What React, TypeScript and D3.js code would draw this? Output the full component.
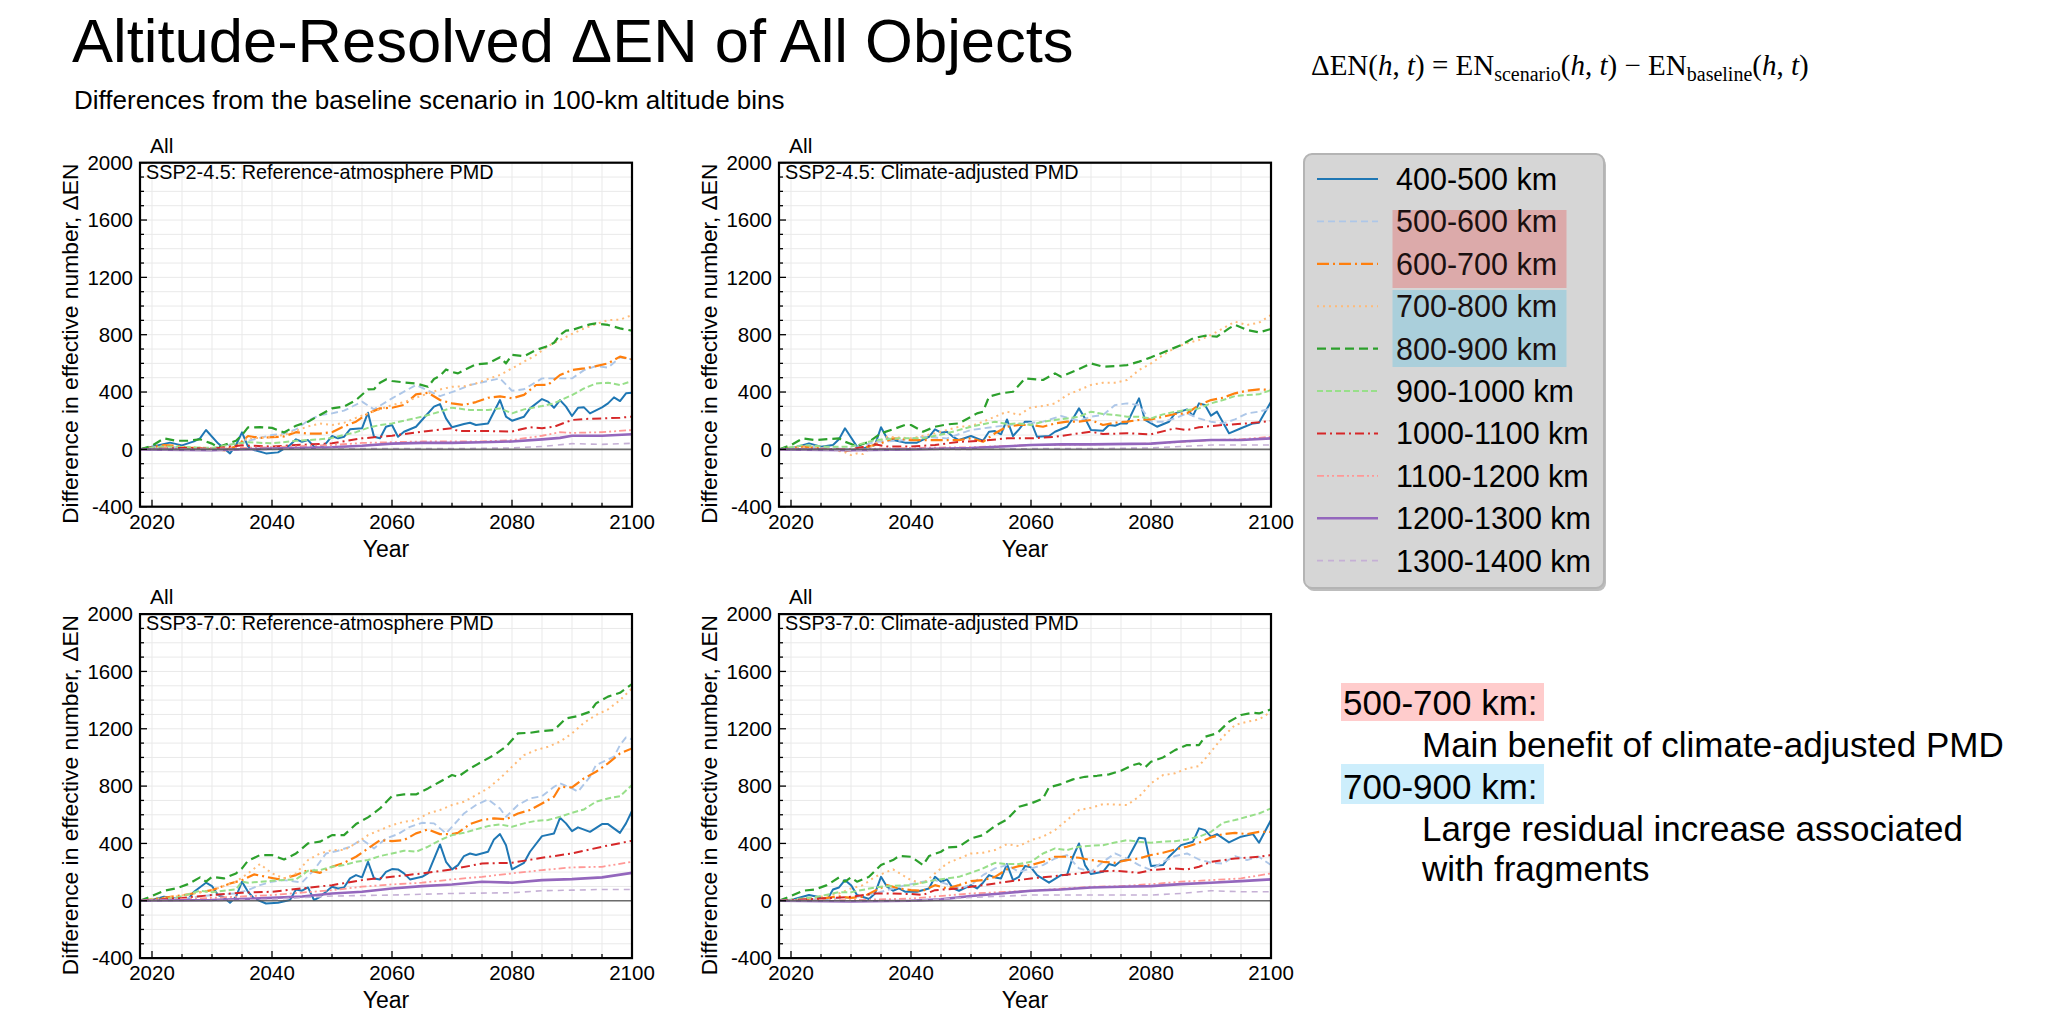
import React from "react";
import * as d3 from "d3";

type Pt = [number, number];

// altitude bins, in legend order
const bins = [
  "400-500 km", "500-600 km", "600-700 km", "700-800 km", "800-900 km",
  "900-1000 km", "1000-1100 km", "1100-1200 km", "1200-1300 km", "1300-1400 km",
];
const colors = [
  "#1f77b4", "#aec7e8", "#ff7f0e", "#ffbb78", "#2ca02c",
  "#98df8a", "#d62728", "#ff9896", "#9467bd", "#c5b0d5",
];
const dashes = ["", "7,4", "12,4,2,4", "2,4", "9,5", "6,3", "9,4,2,4", "7,3,2,3,2,3", "", "6,5"];
const widths = [2, 1.9, 2.2, 2, 2.2, 2, 2, 1.8, 2.6, 1.6];

const yTicks = [-400, 0, 400, 800, 1200, 1600, 2000];
const xTicks = [2020, 2040, 2060, 2080, 2100];

const panelTitles = [
  "SSP2-4.5: Reference-atmosphere PMD",
  "SSP2-4.5: Climate-adjusted PMD",
  "SSP3-7.0: Reference-atmosphere PMD",
  "SSP3-7.0: Climate-adjusted PMD",
];

// SSP2-4.5, reference-atmosphere PMD
const ssp245Ref: Pt[][] = [
  [[2018,0],[2020,19],[2023,47],[2025,28],[2027,56],[2028,77],[2029,135],[2031,42],[2032,7],[2033,-28],[2034,30],[2035,119],[2036,19],[2037,-5],[2039,-28],[2041,-21],[2043,30],[2044,70],[2045,53],[2046,65],[2047,19],[2048,7],[2049,42],[2050,93],[2051,77],[2052,88],[2053,140],[2055,147],[2056,256],[2057,88],[2058,77],[2059,158],[2060,170],[2061,88],[2062,123],[2064,158],[2065,205],[2067,298],[2068,316],[2069,216],[2070,154],[2072,177],[2073,186],[2074,170],[2076,181],[2078,344],[2079,228],[2080,200],[2082,228],[2083,286],[2085,351],[2086,333],[2087,290],[2088,344],[2089,298],[2090,233],[2091,290],[2092,293],[2093,251],[2095,293],[2096,321],[2097,363],[2098,337],[2099,391],[2100,395]],
  [[2018,0],[2022,25],[2025,10],[2030,5],[2035,50],[2040,100],[2042,110],[2044,140],[2046,200],[2048,240],[2050,251],[2052,270],[2055,333],[2057,279],[2060,356],[2064,449],[2068,372],[2071,414],[2073,449],[2078,495],[2080,409],[2082,419],[2085,495],[2088,495],[2090,495],[2092,553],[2094,581],[2096,570],[2098,642],[2100,628]],
  [[2018,0],[2020,15],[2022,30],[2024,25],[2026,10],[2028,10],[2030,0],[2032,-5],[2034,20],[2036,93],[2038,80],[2040,85],[2042,90],[2044,120],[2046,110],[2048,110],[2050,120],[2052,160],[2054,193],[2056,251],[2058,286],[2060,290],[2062,310],[2064,384],[2066,395],[2068,344],[2070,321],[2072,310],[2074,330],[2076,360],[2078,370],[2080,356],[2082,380],[2084,449],[2086,450],[2088,519],[2090,553],[2092,565],[2094,581],[2096,600],[2098,647],[2100,628]],
  [[2018,0],[2022,20],[2026,15],[2030,5],[2032,-10],[2034,20],[2036,80],[2038,80],[2040,90],[2042,100],[2044,130],[2046,160],[2048,180],[2050,170],[2052,185],[2054,220],[2056,251],[2058,280],[2060,309],[2062,330],[2064,360],[2066,390],[2068,418],[2070,437],[2072,440],[2074,460],[2076,491],[2078,519],[2080,565],[2082,612],[2084,658],[2086,721],[2088,763],[2090,805],[2092,844],[2094,874],[2096,902],[2098,905],[2100,937]],
  [[2018,0],[2020,25],[2022,77],[2024,60],[2026,60],[2028,70],[2030,40],[2031,15],[2032,30],[2034,60],[2035,100],[2036,153],[2038,155],[2040,150],[2042,118],[2044,165],[2046,193],[2048,240],[2050,286],[2052,298],[2054,344],[2056,419],[2057,420],[2058,465],[2059,488],[2060,477],[2062,467],[2064,460],[2066,437],[2067,491],[2068,512],[2069,558],[2070,540],[2071,530],[2072,553],[2074,593],[2076,600],[2078,642],[2079,600],[2080,660],[2082,650],[2084,693],[2086,721],[2087,744],[2088,798],[2089,828],[2090,833],[2092,860],[2093,872],[2094,879],[2096,868],[2098,844],[2100,828]],
  [[2018,0],[2022,20],[2026,15],[2030,10],[2034,40],[2036,50],[2040,42],[2044,60],[2048,70],[2050,80],[2054,120],[2056,150],[2058,170],[2060,181],[2065,228],[2068,263],[2070,291],[2073,274],[2076,274],[2078,286],[2080,251],[2082,279],[2085,302],[2087,321],[2090,379],[2092,425],[2094,460],[2096,465],[2098,449],[2100,477]],
  [[2018,0],[2025,10],[2030,5],[2035,28],[2040,20],[2045,32],[2050,42],[2055,77],[2060,95],[2065,123],[2070,147],[2071,128],[2075,128],[2080,125],[2083,154],[2085,147],[2087,158],[2090,205],[2092,212],[2095,216],[2098,221],[2100,228]],
  [[2018,0],[2030,5],[2040,15],[2050,30],[2055,45],[2060,50],[2065,55],[2070,55],[2075,55],[2080,65],[2085,95],[2088,120],[2090,115],[2095,120],[2100,135]],
  [[2018,0],[2030,-5],[2040,5],[2050,15],[2055,25],[2060,40],[2065,45],[2070,45],[2075,50],[2080,55],[2085,70],[2088,80],[2090,95],[2095,95],[2100,105]],
  [[2018,0],[2030,-5],[2040,0],[2050,5],[2060,5],[2070,5],[2080,10],[2085,20],[2090,40],[2095,35],[2100,42]],
];

// SSP2-4.5, climate-adjusted PMD
const ssp245Adj: Pt[][] = [
  [[2018,0],[2020,7],[2023,42],[2025,19],[2027,30],[2028,70],[2029,147],[2031,19],[2032,7],[2034,30],[2035,154],[2036,77],[2037,65],[2039,47],[2041,47],[2043,88],[2044,140],[2045,116],[2046,123],[2047,88],[2048,65],[2050,93],[2051,77],[2052,60],[2053,123],[2054,128],[2055,105],[2056,209],[2057,93],[2058,140],[2059,193],[2060,193],[2061,88],[2063,93],[2064,123],[2066,158],[2067,216],[2068,286],[2069,216],[2070,135],[2072,130],[2073,170],[2074,165],[2075,181],[2076,181],[2078,356],[2079,205],[2081,158],[2083,193],[2084,251],[2086,279],[2087,235],[2088,321],[2089,309],[2090,235],[2091,263],[2093,112],[2095,147],[2097,181],[2098,186],[2100,333]],
  [[2018,0],[2022,20],[2026,10],[2030,0],[2034,53],[2038,60],[2042,88],[2046,77],[2050,135],[2054,158],[2058,177],[2062,193],[2065,233],[2068,200],[2070,228],[2072,240],[2074,309],[2076,321],[2078,309],[2080,193],[2082,193],[2084,216],[2086,251],[2088,216],[2090,193],[2092,181],[2094,209],[2096,251],[2098,263],[2100,286]],
  [[2018,0],[2022,20],[2026,0],[2029,-10],[2031,0],[2033,20],[2035,42],[2037,77],[2040,65],[2044,65],[2048,65],[2050,77],[2052,53],[2054,112],[2056,158],[2058,170],[2060,170],[2062,158],[2064,181],[2066,193],[2068,193],[2070,205],[2072,170],[2074,186],[2076,193],[2078,205],[2080,209],[2082,228],[2084,247],[2086,251],[2088,309],[2090,344],[2092,360],[2094,391],[2096,409],[2098,419],[2100,414]],
  [[2018,0],[2022,15],[2026,5],[2029,-20],[2030,-40],[2031,-28],[2032,-33],[2034,42],[2036,88],[2040,77],[2044,112],[2048,158],[2050,163],[2052,193],[2054,228],[2056,263],[2058,240],[2060,293],[2062,302],[2064,321],[2066,379],[2068,414],[2070,449],[2072,465],[2074,465],[2076,484],[2078,553],[2080,600],[2082,658],[2084,709],[2086,740],[2088,763],[2090,798],[2092,844],[2094,891],[2096,868],[2098,884],[2100,937]],
  [[2018,0],[2020,30],[2022,77],[2024,65],[2028,77],[2029,53],[2031,23],[2033,53],[2035,112],[2037,140],[2039,170],[2040,170],[2042,123],[2044,158],[2046,174],[2048,181],[2051,251],[2052,263],[2053,368],[2055,391],[2057,402],[2059,495],[2062,484],[2064,530],[2065,507],[2068,560],[2070,600],[2072,577],[2074,581],[2076,588],[2078,612],[2080,642],[2083,693],[2085,728],[2087,775],[2089,793],[2091,786],[2093,844],[2094,868],[2096,833],[2098,816],[2100,840]],
  [[2018,0],[2022,30],[2026,19],[2030,19],[2034,65],[2038,77],[2042,77],[2046,112],[2050,158],[2054,193],[2056,177],[2058,181],[2060,170],[2062,193],[2064,205],[2066,216],[2068,228],[2070,263],[2072,247],[2074,240],[2076,228],[2078,228],[2080,216],[2082,244],[2084,263],[2086,274],[2088,286],[2090,321],[2092,344],[2094,372],[2096,379],[2098,384],[2100,414]],
  [[2018,0],[2030,0],[2034,35],[2036,20],[2040,20],[2044,30],[2048,53],[2052,60],[2056,77],[2060,77],[2064,88],[2068,112],[2070,123],[2072,107],[2076,112],[2080,105],[2084,147],[2086,135],[2088,154],[2092,170],[2096,181],[2100,198]],
  [[2018,0],[2030,0],[2040,10],[2050,15],[2060,30],[2070,35],[2080,40],[2090,65],[2095,70],[2100,88]],
  [[2018,0],[2030,-5],[2040,0],[2050,10],[2060,30],[2065,35],[2070,35],[2080,40],[2085,55],[2090,65],[2095,65],[2100,77]],
  [[2018,0],[2030,-5],[2040,0],[2050,0],[2060,5],[2070,5],[2080,10],[2085,20],[2090,30],[2095,30],[2100,30]],
];

// SSP3-7.0, reference-atmosphere PMD
const ssp370Ref: Pt[][] = [
  [[2018,0],[2020,5],[2022,28],[2024,16],[2026,9],[2027,63],[2029,126],[2030,102],[2031,40],[2032,23],[2033,-14],[2034,28],[2035,133],[2036,63],[2037,16],[2039,-19],[2041,-14],[2043,5],[2044,79],[2045,70],[2046,93],[2047,5],[2048,28],[2050,98],[2051,86],[2052,93],[2053,156],[2054,179],[2055,163],[2056,272],[2057,156],[2058,149],[2059,202],[2060,221],[2061,219],[2062,191],[2063,149],[2065,167],[2066,191],[2068,393],[2069,272],[2070,219],[2071,249],[2072,312],[2073,330],[2074,319],[2076,342],[2077,428],[2078,465],[2079,388],[2080,219],[2082,265],[2083,342],[2085,451],[2087,470],[2088,579],[2089,540],[2090,486],[2091,512],[2093,481],[2095,535],[2096,535],[2098,474],[2099,540],[2100,626]],
  [[2018,0],[2026,20],[2030,40],[2034,51],[2036,74],[2038,109],[2040,133],[2042,144],[2045,128],[2047,214],[2049,330],[2051,349],[2053,377],[2055,428],[2057,365],[2059,435],[2061,465],[2063,516],[2065,544],[2067,540],[2069,470],[2070,516],[2072,609],[2074,668],[2076,707],[2078,644],[2079,586],[2081,668],[2083,714],[2085,730],[2087,795],[2088,819],[2090,784],[2091,761],[2093,865],[2094,947],[2097,1005],[2098,1086],[2099,1140],[2100,1126]],
  [[2018,0],[2022,20],[2026,45],[2030,74],[2033,120],[2035,144],[2037,184],[2039,167],[2041,151],[2042,156],[2044,179],[2046,214],[2048,195],[2050,237],[2052,265],[2054,307],[2056,365],[2058,423],[2060,416],[2062,423],[2064,470],[2066,498],[2068,465],[2070,465],[2071,474],[2073,535],[2075,563],[2077,575],[2079,568],[2081,609],[2083,633],[2085,679],[2087,726],[2088,795],[2090,791],[2092,854],[2094,900],[2096,958],[2098,1028],[2100,1063]],
  [[2018,0],[2024,30],[2030,74],[2034,133],[2036,191],[2038,256],[2040,191],[2042,156],[2044,191],[2046,284],[2048,330],[2050,354],[2052,354],[2054,400],[2056,458],[2058,493],[2060,528],[2062,551],[2064,563],[2066,609],[2068,633],[2070,668],[2072,691],[2074,737],[2076,784],[2078,854],[2080,935],[2082,1016],[2084,1051],[2086,1075],[2088,1110],[2090,1168],[2092,1242],[2094,1296],[2096,1335],[2098,1400],[2100,1482]],
  [[2018,0],[2020,33],[2022,70],[2024,86],[2026,116],[2028,163],[2029,133],[2030,167],[2032,156],[2034,191],[2035,226],[2036,279],[2038,319],[2040,319],[2042,288],[2044,330],[2046,400],[2048,412],[2050,458],[2052,458],[2054,535],[2056,582],[2058,644],[2060,730],[2062,742],[2064,742],[2066,784],[2068,830],[2070,877],[2071,865],[2073,923],[2075,970],[2077,1016],[2079,1075],[2081,1168],[2083,1172],[2085,1184],[2087,1191],[2089,1272],[2091,1289],[2093,1319],[2094,1377],[2096,1424],[2098,1451],[2100,1512]],
  [[2018,0],[2024,20],[2028,70],[2030,60],[2034,79],[2035,133],[2036,126],[2040,140],[2044,149],[2046,209],[2048,214],[2050,237],[2052,249],[2054,272],[2056,284],[2058,312],[2060,330],[2062,349],[2064,342],[2066,377],[2068,423],[2070,458],[2072,474],[2074,498],[2076,521],[2078,533],[2080,516],[2082,540],[2084,558],[2086,563],[2088,586],[2090,614],[2092,637],[2094,691],[2096,714],[2098,730],[2100,807]],
  [[2018,0],[2025,20],[2030,40],[2035,56],[2040,63],[2045,86],[2050,109],[2055,144],[2060,167],[2065,191],[2070,219],[2075,260],[2080,265],[2085,300],[2090,330],[2095,377],[2100,419]],
  [[2018,0],[2030,20],[2040,40],[2050,74],[2055,98],[2060,114],[2065,126],[2070,149],[2075,167],[2080,191],[2085,214],[2090,233],[2095,237],[2100,272]],
  [[2018,0],[2030,5],[2040,20],[2045,30],[2050,51],[2055,63],[2060,86],[2065,102],[2070,114],[2075,133],[2080,126],[2085,144],[2090,151],[2095,163],[2100,195]],
  [[2018,0],[2030,0],[2040,10],[2050,33],[2060,40],[2070,51],[2080,56],[2085,70],[2090,74],[2095,79],[2100,79]],
];

// SSP3-7.0, climate-adjusted PMD
const ssp370Adj: Pt[][] = [
  [[2018,0],[2020,5],[2023,40],[2025,23],[2026,5],[2027,79],[2028,93],[2029,144],[2030,109],[2031,40],[2033,12],[2034,51],[2035,167],[2036,98],[2037,70],[2038,86],[2039,63],[2041,63],[2043,86],[2044,167],[2045,133],[2046,149],[2047,86],[2048,70],[2050,109],[2051,86],[2052,126],[2053,179],[2054,163],[2055,156],[2056,256],[2057,144],[2058,167],[2059,242],[2060,233],[2061,179],[2063,126],[2065,179],[2066,179],[2067,307],[2068,400],[2069,249],[2070,186],[2072,202],[2073,256],[2074,244],[2075,279],[2076,284],[2078,440],[2079,435],[2080,242],[2082,249],[2083,307],[2085,388],[2087,412],[2088,505],[2089,493],[2090,447],[2091,465],[2093,407],[2095,447],[2097,465],[2098,405],[2100,563]],
  [[2018,0],[2030,20],[2034,50],[2038,98],[2042,133],[2044,144],[2048,86],[2050,109],[2052,179],[2054,226],[2056,249],[2058,202],[2060,226],[2062,249],[2064,295],[2066,319],[2068,226],[2070,202],[2072,272],[2074,330],[2076,295],[2078,249],[2080,214],[2082,272],[2084,312],[2086,330],[2088,288],[2090,265],[2092,260],[2094,312],[2096,284],[2098,307],[2100,249]],
  [[2018,0],[2024,10],[2028,30],[2030,20],[2032,28],[2034,70],[2036,109],[2038,86],[2040,74],[2042,70],[2044,109],[2046,86],[2048,109],[2050,137],[2052,144],[2054,167],[2056,219],[2058,242],[2060,249],[2062,272],[2064,307],[2066,307],[2068,300],[2070,284],[2072,272],[2074,265],[2076,284],[2078,295],[2080,319],[2082,335],[2084,358],[2086,377],[2088,405],[2090,442],[2092,465],[2094,474],[2096,465],[2098,481],[2100,481]],
  [[2018,0],[2024,20],[2028,51],[2030,86],[2032,109],[2034,167],[2036,202],[2037,219],[2040,144],[2042,121],[2044,191],[2046,261],[2048,295],[2050,330],[2052,335],[2054,354],[2056,395],[2058,381],[2060,423],[2062,447],[2064,493],[2066,563],[2068,633],[2070,649],[2072,674],[2074,672],[2076,668],[2078,726],[2080,819],[2082,877],[2084,889],[2086,923],[2088,940],[2090,1040],[2092,1144],[2094,1226],[2096,1249],[2098,1265],[2100,1319]],
  [[2018,0],[2020,33],[2022,70],[2024,79],[2026,109],[2028,163],[2029,133],[2030,163],[2031,133],[2033,167],[2035,249],[2037,284],[2038,312],[2040,307],[2042,249],[2043,312],[2045,342],[2046,372],[2048,377],[2050,435],[2052,458],[2054,521],[2056,568],[2058,656],[2060,679],[2062,714],[2063,791],[2065,814],[2067,847],[2069,865],[2071,872],[2073,882],[2075,907],[2077,947],[2078,958],[2079,930],[2080,970],[2082,1000],[2084,1051],[2086,1086],[2088,1086],[2089,1144],[2091,1168],[2093,1249],[2095,1296],[2097,1312],[2098,1307],[2100,1335]],
  [[2018,0],[2024,25],[2028,60],[2030,60],[2034,93],[2036,102],[2040,109],[2044,144],[2048,167],[2050,195],[2052,226],[2054,265],[2056,256],[2058,256],[2060,272],[2062,330],[2064,365],[2066,354],[2068,377],[2070,384],[2072,388],[2074,407],[2076,423],[2078,412],[2080,405],[2082,412],[2084,416],[2086,428],[2088,447],[2090,481],[2092,544],[2094,563],[2096,586],[2098,609],[2100,644]],
  [[2018,0],[2025,15],[2030,28],[2034,51],[2036,51],[2040,47],[2042,40],[2044,74],[2048,86],[2052,109],[2056,133],[2060,156],[2064,172],[2068,191],[2070,202],[2074,209],[2078,195],[2080,214],[2084,226],[2086,219],[2088,237],[2090,272],[2094,295],[2098,307],[2100,319]],
  [[2018,0],[2030,5],[2040,15],[2050,51],[2060,70],[2070,98],[2075,102],[2080,116],[2085,133],[2090,144],[2095,156],[2100,191]],
  [[2018,0],[2030,-5],[2040,0],[2045,10],[2050,33],[2055,51],[2060,70],[2065,79],[2070,93],[2075,98],[2080,102],[2085,116],[2090,126],[2095,137],[2100,149]],
  [[2018,0],[2040,0],[2050,23],[2060,40],[2070,40],[2080,40],[2085,51],[2090,70],[2095,63],[2100,63]],
];

const panelData = [ssp245Ref, ssp245Adj, ssp370Ref, ssp370Adj];

// layout (pixels)
const W = 2048;
const H = 1025;
const PW = 492;
const PH = 344;
const panelLeft = [140, 779, 140, 779];
const panelTop = [162.7, 162.7, 614.1, 614.1];
const SANS = "'Liberation Sans', Arial, Helvetica, sans-serif";
const SERIF = "'Liberation Serif', 'DejaVu Serif', serif";

function Panel({ idx }: { idx: number }) {
  const left = panelLeft[idx];
  const top = panelTop[idx];
  const x = d3.scaleLinear().domain([2018, 2100]).range([left, left + PW]);
  const y = d3.scaleLinear().domain([-400, 2000]).range([top + PH, top]);
  const line = d3.line<Pt>().x((d) => x(d[0])).y((d) => y(d[1]));
  const minorY = d3.range(-400, 2001, 100);
  const minorX = d3.range(2020, 2101, 5);
  const clipId = `clip-${idx}`;
  const series = panelData[idx];

  return (
    <g>
      <defs>
        <clipPath id={clipId}>
          <rect x={left} y={top} width={PW} height={PH} />
        </clipPath>
      </defs>
      <rect x={left} y={top} width={PW} height={PH} fill="#fff" />
      {/* grid */}
      <g stroke="#e9e9e9" strokeWidth={1}>
        {minorY.map((v) => (
          <line key={"gy" + v} x1={left} x2={left + PW} y1={y(v)} y2={y(v)} />
        ))}
        {minorX.map((v) => (
          <line key={"gx" + v} x1={x(v)} x2={x(v)} y1={top} y2={top + PH} />
        ))}
      </g>
      <g clipPath={`url(#${clipId})`} fill="none" strokeLinejoin="round">
        {series.map((s, i) => (
          <path
            key={i}
            d={line(s) || ""}
            stroke={colors[i]}
            strokeWidth={widths[i]}
            strokeDasharray={dashes[i] || undefined}
          />
        ))}
        <line x1={left} x2={left + PW} y1={y(0)} y2={y(0)} stroke="#555" strokeOpacity={0.85} strokeWidth={1.6} />
      </g>
      {/* ticks */}
      <g stroke="#000" strokeWidth={1.3}>
        {minorY.map((v) => (
          <line key={"ty" + v} x1={left} x2={left + (v % 400 === 0 ? 7 : 4)} y1={y(v)} y2={y(v)} />
        ))}
        {minorX.map((v) => (
          <line key={"tx" + v} x1={x(v)} x2={x(v)} y1={top + PH} y2={top + PH - (v % 20 === 0 ? 7 : 4)} />
        ))}
      </g>
      <rect x={left} y={top} width={PW} height={PH} fill="none" stroke="#000" strokeWidth={2.2} />
      <g fontFamily={SANS} fontSize={20.5} fill="#000">
        {yTicks.map((v) => (
          <text key={"ly" + v} x={left - 7} y={y(v) + 7.3} textAnchor="end">
            {v}
          </text>
        ))}
        {xTicks.map((v) => (
          <text key={"lx" + v} x={x(v)} y={top + PH + 22} textAnchor="middle">
            {v}
          </text>
        ))}
      </g>
      <text x={left + 6} y={top + 16} fontFamily={SANS} fontSize={19.8}>
        {panelTitles[idx]}
      </text>
      <text x={left + 10} y={top - 10} fontFamily={SANS} fontSize={21}>
        All
      </text>
      <text x={left + PW / 2} y={top + PH + 50} textAnchor="middle" fontFamily={SANS} fontSize={23}>
        Year
      </text>
      <text
        transform={`translate(${left - 62},${top + PH / 2 + 9}) rotate(-90)`}
        textAnchor="middle"
        fontFamily={SANS}
        fontSize={22.8}
      >
        Difference in effective number, ΔEN
      </text>
    </g>
  );
}

function Legend() {
  const bx = 1304;
  const by = 154;
  const rowY = d3.scaleLinear().domain([0, 9]).range([179, 179 + 9 * 42.4]);
  return (
    <g>
      <rect x={bx + 2} y={by + 3} width={300} height={434} rx={8} fill="#bdbdbd" />
      <rect x={bx} y={by} width={300} height={434} rx={8} fill="#d6d6d6" stroke="#b4b4b4" strokeWidth={2} />
      <rect x={1392.5} y={210} width={174} height={78} fill="#dcaaaa" />
      <rect x={1392.5} y={290} width={174} height={77} fill="#aacfdb" />
      {bins.map((b, i) => (
        <g key={b}>
          <line
            x1={1317}
            x2={1378}
            y1={rowY(i)}
            y2={rowY(i)}
            stroke={colors[i]}
            strokeWidth={widths[i]}
            strokeDasharray={dashes[i] || undefined}
          />
          <text x={1396} y={rowY(i) + 11} fontFamily={SANS} fontSize={30.5} fill={i >= 1 && i <= 4 ? "#1a1010" : "#000"}>
            {b}
          </text>
        </g>
      ))}
    </g>
  );
}

function Formula() {
  return (
    <text x={1311} y={75} fontFamily={SERIF} fontSize={29} fill="#000">
      {"ΔEN("}
      <tspan fontStyle="italic">h</tspan>
      {", "}
      <tspan fontStyle="italic">t</tspan>
      {") = EN"}
      <tspan fontSize={20} dy={6}>scenario</tspan>
      <tspan dy={-6}>(</tspan>
      <tspan fontStyle="italic">h</tspan>
      {", "}
      <tspan fontStyle="italic">t</tspan>
      {") − EN"}
      <tspan fontSize={20} dy={6}>baseline</tspan>
      <tspan dy={-6}>(</tspan>
      <tspan fontStyle="italic">h</tspan>
      {", "}
      <tspan fontStyle="italic">t</tspan>
      {")"}
    </text>
  );
}

function Notes() {
  return (
    <g fontFamily={SANS} fontSize={35} fill="#000">
      <rect x={1341} y={683} width={203} height={38} fill="#ffcccc" />
      <text x={1343} y={715}>500-700 km:</text>
      <text x={1422} y={757}>Main benefit of climate-adjusted PMD</text>
      <rect x={1341} y={764} width={203} height={40} fill="#cdeefc" />
      <text x={1343} y={799}>700-900 km:</text>
      <text x={1422} y={841}>Large residual increase associated</text>
      <text x={1422} y={881}>with fragments</text>
    </g>
  );
}

export default function App() {
  return (
    <svg
      width={W}
      height={H}
      viewBox={`0 0 ${W} ${H}`}
      style={{ position: "absolute", left: 0, top: 0, background: "#fff" }}
    >
      <rect width={W} height={H} fill="#fff" />
      <text x={72} y={62} fontFamily={SANS} fontSize={61.5} fill="#000">
        Altitude-Resolved ΔEN of All Objects
      </text>
      <text x={74} y={109} fontFamily={SANS} fontSize={26} fill="#000">
        Differences from the baseline scenario in 100-km altitude bins
      </text>
      <Formula />
      {[0, 1, 2, 3].map((i) => (
        <Panel key={i} idx={i} />
      ))}
      <Legend />
      <Notes />
    </svg>
  );
}
